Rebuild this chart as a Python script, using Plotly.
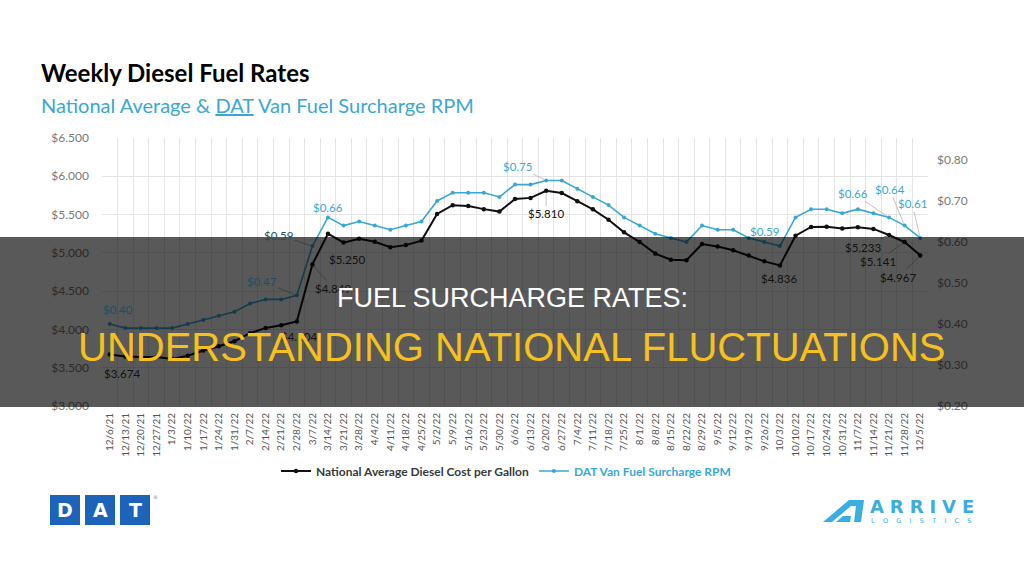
import plotly.graph_objects as go

# ---------------- data ----------------
weeks = ["12/6/21","12/13/21","12/20/21","12/27/21","1/3/22","1/10/22","1/17/22","1/24/22","1/31/22",
         "2/7/22","2/14/22","2/21/22","2/28/22","3/7/22","3/14/22","3/21/22","3/28/22","4/4/22","4/11/22",
         "4/18/22","4/25/22","5/2/22","5/9/22","5/16/22","5/23/22","5/30/22","6/6/22","6/13/22","6/20/22",
         "6/27/22","7/4/22","7/11/22","7/18/22","7/25/22","8/1/22","8/8/22","8/15/22","8/22/22","8/29/22",
         "9/5/22","9/12/22","9/19/22","9/26/22","10/3/22","10/10/22","10/17/22","10/24/22","10/31/22",
         "11/7/22","11/14/22","11/21/22","11/28/22","12/5/22"]

diesel_price = [3.674, 3.647, 3.640, 3.641, 3.613, 3.657, 3.725, 3.780, 3.846,
                3.951, 4.020, 4.055, 4.104, 4.849, 5.250, 5.134, 5.185, 5.144, 5.073,
                5.101, 5.160, 5.509, 5.623, 5.613, 5.571, 5.539, 5.703, 5.718, 5.810,
                5.781, 5.675, 5.568, 5.432, 5.268, 5.141, 4.990, 4.911, 4.903, 5.115,
                5.084, 5.033, 4.964, 4.889, 4.836, 5.224, 5.339, 5.341, 5.317,
                5.333, 5.313, 5.233, 5.141, 4.967]

van_surcharge = [0.40, 0.39, 0.39, 0.39, 0.39, 0.40, 0.41, 0.42, 0.43,
                 0.45, 0.46, 0.46, 0.47, 0.59, 0.66, 0.64, 0.65, 0.64, 0.63,
                 0.64, 0.65, 0.70, 0.72, 0.72, 0.72, 0.71, 0.74, 0.74, 0.75,
                 0.75, 0.73, 0.71, 0.69, 0.66, 0.64, 0.62, 0.61, 0.60, 0.64,
                 0.63, 0.63, 0.61, 0.60, 0.59, 0.66, 0.68, 0.68, 0.67,
                 0.68, 0.67, 0.66, 0.64, 0.61]

left_ticks = [3.0, 3.5, 4.0, 4.5, 5.0, 5.5, 6.0, 6.5]
left_tick_text = ["$3.000", "$3.500", "$4.000", "$4.500", "$5.000", "$5.500", "$6.000", "$6.500"]
right_ticks = [0.2, 0.3, 0.4, 0.5, 0.6, 0.7, 0.8]
right_tick_text = ["$0.20", "$0.30", "$0.40", "$0.50", "$0.60", "$0.70", "$0.80"]

# labelled points: (index, dx, dy, leader line)
diesel_labels = [(0, 12, 19, False), (12, 2, 15, False), (13, 21, 24, True), (14, 19, 26, False),
                 (28, 0, 23, True), (43, -1, 13, False), (50, -26, 12, True), (51, -27, 19, True),
                 (52, -22, 22, True)]
van_labels = [(0, 8, -15, False), (12, -35, -14, True), (13, -34, -11, True), (14, 0, -10, False),
              (28, -29, -14, True), (43, -15, -15, False), (50, -36, -24, True), (51, -15, -36, True),
              (52, -8, -34, True)]

# ---------------- style ----------------
BLACK = "#111111"
BLUE = "#3ba8d3"
BLUE_DIM = "#1e4f5e"
GRID = "#e4e4e4"
TICK = "#7a7a7a"
FONT = "Lato"

L, R, T, B = 102, 928, 138, 406


def px(x):
    return (x - L) / (R - L)


def py(y):
    return (B - y) / (B - T)


BAND_TOP, BAND_BOT = 237, 407

fig = go.Figure()
fig.add_trace(go.Scatter(
    x=weeks, y=diesel_price, mode="lines+markers", yaxis="y",
    name="<b>National Average Diesel Cost per Gallon</b>",
    line=dict(color=BLACK, width=2), marker=dict(color=BLACK, size=4.5)))
fig.add_trace(go.Scatter(
    x=weeks, y=van_surcharge, mode="lines+markers", yaxis="y2",
    name="<span style='color:%s'><b>DAT Van Fuel Surcharge RPM</b></span>" % BLUE,
    line=dict(color=BLUE, width=1.6), marker=dict(color=BLUE, size=4)))

ann = []


def in_band(y_center):
    return BAND_TOP - 4 < y_center < BAND_BOT


def add_labels(labels, values, fmt, color, yref, to_px):
    for i, dx, dy, leader in labels:
        v = values[i]
        ycen = to_px(v) + dy
        c = BLACK if color == BLACK else (BLUE_DIM if in_band(ycen) else color)
        base = dict(x=weeks[i], y=v, xref="x", yref=yref, text=fmt.format(v),
                    font=dict(family=FONT, size=11.5, color=c))
        if leader:
            base.update(showarrow=True, ax=dx, ay=dy, axref="pixel", ayref="pixel",
                        arrowhead=0, arrowwidth=0.8,
                        arrowcolor="#3a3a3a" if in_band(ycen) else "#b5b5b5", standoff=2)
        else:
            base.update(showarrow=False, xshift=dx, yshift=-dy)
        ann.append(base)


def left_px(v):
    return B - (v - 3.0) / 3.5 * (B - T)


Y2_MAX = 0.2 + (B - T) / 410.0


def right_px(v):
    return B - (v - 0.2) / (Y2_MAX - 0.2) * (B - T)


add_labels(diesel_labels, diesel_price, "${:.3f}", BLACK, "y", left_px)
add_labels(van_labels, van_surcharge, "${:.2f}", BLUE, "y2", right_px)

# titles
ann.append(dict(xref="paper", yref="paper", x=px(39), y=py(72), xanchor="left", yanchor="middle",
                text="<b>Weekly Diesel Fuel Rates</b>", showarrow=False,
                font=dict(family=FONT, size=24, color="#000000")))
ann.append(dict(xref="paper", yref="paper", x=px(39), y=py(105), xanchor="left", yanchor="middle",
                text="National Average &amp; <u>DAT</u> Van Fuel Surcharge RPM", showarrow=False,
                font=dict(family=FONT, size=20, color=BLUE)))

# banner text
ann.append(dict(xref="paper", yref="paper", x=px(512), y=py(298), xanchor="center", yanchor="middle",
                text="FUEL SURCHARGE RATES:", showarrow=False,
                font=dict(family="Liberation Sans", size=27, color="#ffffff")))
ann.append(dict(xref="paper", yref="paper", x=px(511), y=py(347), xanchor="center", yanchor="middle",
                text="UNDERSTANDING NATIONAL FLUCTUATIONS", showarrow=False,
                font=dict(family="Liberation Sans", size=40, color="#f6c11e")))

# logos
DAT_BLUE = "#1d63b7"
shapes = [dict(type="rect", xref="paper", yref="paper", x0=px(0), x1=px(1024),
               y0=py(BAND_BOT), y1=py(BAND_TOP), fillcolor="rgba(0,0,0,0.65)",
               line=dict(width=0), layer="above")]
for k, letter in enumerate("DAT"):
    x0 = 50 + 35 * k
    shapes.append(dict(type="rect", xref="paper", yref="paper", x0=px(x0), x1=px(x0 + 30),
                       y0=py(525), y1=py(495), fillcolor=DAT_BLUE, line=dict(width=0)))
    ann.append(dict(xref="paper", yref="paper", x=px(x0 + 15), y=py(510), xanchor="center",
                    yanchor="middle", text="<b>%s</b>" % letter, showarrow=False,
                    font=dict(family="DejaVu Sans", size=19, color="#ffffff")))
ann.append(dict(xref="paper", yref="paper", x=px(155), y=py(497), xanchor="center", yanchor="middle",
                text="®", showarrow=False, font=dict(family="DejaVu Sans", size=5, color="#888888")))

ARR = "#3aaee0"


def path(pts):
    return "M " + " L ".join("%f,%f" % (px(a), py(b)) for a, b in pts) + " Z"


shapes.append(dict(type="path", xref="paper", yref="paper", fillcolor=ARR, line=dict(width=0),
                   path=path([(823, 522), (849, 500), (864, 500), (861, 522), (854, 522),
                              (856, 506), (851, 506), (832, 522)])))
shapes.append(dict(type="path", xref="paper", yref="paper", fillcolor=ARR, line=dict(width=0),
                   path=path([(836, 522), (843, 516), (851, 516), (850, 522)])))
ann.append(dict(xref="paper", yref="paper", x=px(868), y=py(506), xanchor="left", yanchor="middle",
                text="<b>A\u2004R\u2004R\u2004I\u2004V\u2004E</b>", showarrow=False,
                font=dict(family="DejaVu Sans", size=18, color=ARR)))
ann.append(dict(xref="paper", yref="paper", x=px(869), y=py(521), xanchor="left", yanchor="middle",
                text="L    O    G    I    S    T    I    C    S", showarrow=False,
                font=dict(family="DejaVu Sans", size=6.5, color=ARR)))

fig.update_layout(
    width=1024, height=576, autosize=False,
    margin=dict(l=L, r=1024 - R, t=T, b=576 - B, pad=0),
    paper_bgcolor="#ffffff", plot_bgcolor="#ffffff",
    font=dict(family=FONT, color="#3a3a3a"),
    showlegend=True,
    legend=dict(orientation="h", x=px(506), y=py(471), xanchor="center", yanchor="middle",
                font=dict(family=FONT, size=12, color="#3a3a3a"), itemwidth=30,
                bgcolor="rgba(0,0,0,0)"),
    xaxis=dict(type="category", tickangle=-90, tickson="boundaries", showgrid=True,
               gridcolor=GRID, gridwidth=1, ticks="", showline=False, zeroline=False,
               tickfont=dict(family=FONT, size=10, color="#555555"), ticklabelstandoff=4,
               range=[-0.5, len(weeks) - 0.5]),
    yaxis=dict(range=[3.0, 6.5], tickvals=left_ticks, ticktext=left_tick_text,
               showgrid=True, gridcolor=GRID, zeroline=False, showline=False, ticks="",
               tickfont=dict(family=FONT, size=12, color=TICK), ticklabelstandoff=12),
    yaxis2=dict(range=[0.2, Y2_MAX], tickvals=right_ticks, ticktext=right_tick_text,
                overlaying="y", side="right", showgrid=False, zeroline=False, showline=False,
                ticks="", tickfont=dict(family=FONT, size=12, color=TICK), ticklabelstandoff=8),
    annotations=ann,
    shapes=shapes,
)

fig.write_html("out.html")
